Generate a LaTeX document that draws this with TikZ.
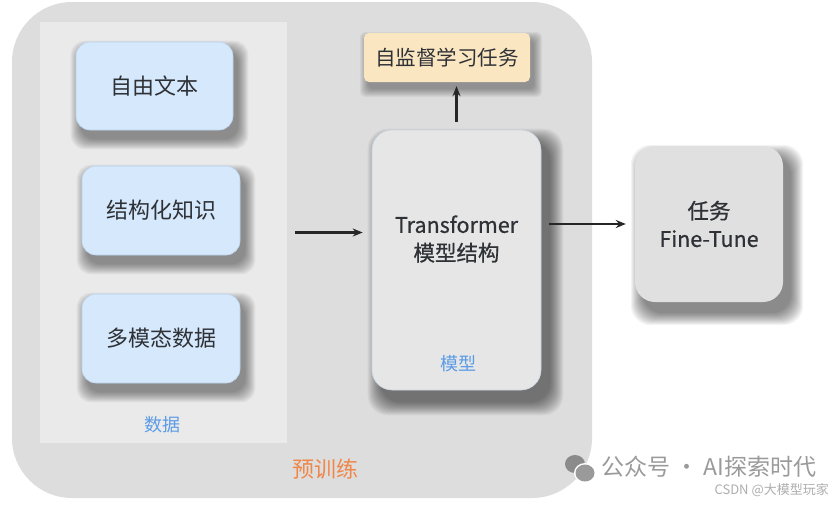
\documentclass[tikz,border=0pt]{standalone}
\usepackage{fontspec}
\setmainfont{Noto Sans CJK SC}
\newfontfamily\semib[FakeBold=0.7]{Noto Sans CJK SC}
\usetikzlibrary{arrows.meta,calc}
\definecolor{outerc}{HTML}{DDDDDD}
\definecolor{panelc}{HTML}{EAEAEA}
\definecolor{bluec}{HTML}{D6E8FB}
\definecolor{blueb}{HTML}{BCD3EC}
\definecolor{modelc}{HTML}{E6E6E6}
\definecolor{modelb}{HTML}{C9D5E2}
\definecolor{yellowc}{HTML}{FAE6C1}
\definecolor{taskc}{HTML}{E0E0E0}
\definecolor{txtc}{HTML}{2E3136}
\definecolor{lblblue}{HTML}{5B9BE6}
\definecolor{lblorange}{HTML}{F0874A}
\definecolor{wmc}{HTML}{9A9A9A}
\pgfdeclarelayer{back}
\pgfdeclarelayer{shad}
\pgfsetlayers{back,shad,main}
\tikzset{
  databox/.style={rectangle, rounded corners=14pt, fill=bluec, draw=blueb, line width=0.6pt, text=txtc, font=\fontsize{22}{26}\selectfont},
  modelbox/.style={rectangle, rounded corners=20pt, fill=modelc, draw=modelb, line width=0.6pt, text=txtc},
  taskbox/.style={rectangle, rounded corners=20pt, fill=taskc, draw=none, text=txtc},
  ssbox/.style={rectangle, rounded corners=5pt, fill=yellowc, draw=none, text=txtc, font=\fontsize{20.5}{24}\selectfont},
  arr/.style={draw=black!85, line width=2.4pt, -{Stealth[length=10pt,width=8pt]}},
  lbl/.style={font=\fontsize{18}{22}\selectfont}
}
% soft shadow: node, corner radius, dx, dy, steps
\newcommand{\softshadow}[5]{%
  \begin{pgfonlayer}{shad}
  \foreach \e in {0,...,#5}{%
    \fill[black, opacity=0.045, rounded corners=#2]
      ([shift={(#3-\e,#4-\e)}]#1.north west) rectangle ([shift={(#3+\e,#4+\e)}]#1.south east);
  }%
  \end{pgfonlayer}}
\begin{document}
\begin{tikzpicture}[x=1pt,y=-1pt]
\useasboundingbox (0,0) rectangle (840,504);
\begin{pgfonlayer}{back}
\fill[white] (0,0) rectangle (840,504);
% outer pretraining panel
\node[rectangle, rounded corners=60pt, fill=outerc, minimum width=580pt, minimum height=496pt, inner sep=0pt] (outer) at (302,250) {};
% data panel
\node[rectangle, fill=panelc, minimum width=247pt, minimum height=421pt, inner sep=0pt] (data) at (163.5,232.5) {};
\end{pgfonlayer}
% data boxes
\node[databox, minimum width=157pt, minimum height=88pt] (free) at (154.5,86) {自由文本};
\node[databox, minimum width=158pt, minimum height=89pt] (struct) at (161,210.5) {结构化知识};
\node[databox, minimum width=158pt, minimum height=89pt] (multi) at (161,338.5) {多模态数据};
\node[lbl, text=lblblue] (datalbl) at (162,425) {数据};
% model
\node[modelbox, minimum width=169pt, minimum height=260pt] (model) at (456.5,260) {};
\node[text=txtc, align=center, font=\semib\fontsize{21.5}{28}\selectfont] (modeltxt) at (456.5,239) {Transformer\\模型结构};
\node[lbl, text=lblblue] (modellbl) at (458,364) {模型};
% self-supervised task
\node[ssbox, minimum width=166pt, minimum height=49pt] (ss) at (447,57.5) {自监督学习任务};
% task
\node[taskbox, minimum width=148pt, minimum height=156pt, align=center, font=\semib\fontsize{21.5}{28}\selectfont] (task) at (709,224) {任务\\Fine-Tune};
% shadows
\softshadow{free}{14pt}{5}{9}{10}
\softshadow{struct}{14pt}{5}{9}{10}
\softshadow{multi}{14pt}{5}{9}{10}
\softshadow{ss}{6pt}{4}{7}{8}
\softshadow{model}{20pt}{9}{12}{13}
\softshadow{task}{20pt}{8}{11}{12}
% pretrain label
\node[font=\fontsize{22}{26}\selectfont, text=lblorange] (pre) at (325,469) {预训练};
% arrows
\draw[arr] ([xshift=8pt]data.east) -- ([xshift=-9pt]model.west |- data.east);
\draw[arr] ([xshift=8pt]model.east |- task.west) -- ([xshift=-9pt]task.west);
\draw[arr] ([yshift=8pt]model.north) -- ([yshift=-4pt]model.north |- ss.south);
% watermark
\fill[wmc!90!black] (575,464) ellipse (10pt and 9pt);
\fill[white] (585,473) ellipse (11pt and 10pt);
\fill[wmc] (585,473) ellipse (9.5pt and 8.5pt);
\node[font=\fontsize{23}{26}\selectfont, text=wmc, anchor=west, inner sep=0pt] (wm) at (601,467) {公众号 · AI探索时代};
\node[font=\fontsize{13}{15}\selectfont, text=wmc!80, anchor=east, inner sep=0pt] (csdn) at (829,490) {CSDN @大模型玩家};
\end{tikzpicture}
\end{document}
